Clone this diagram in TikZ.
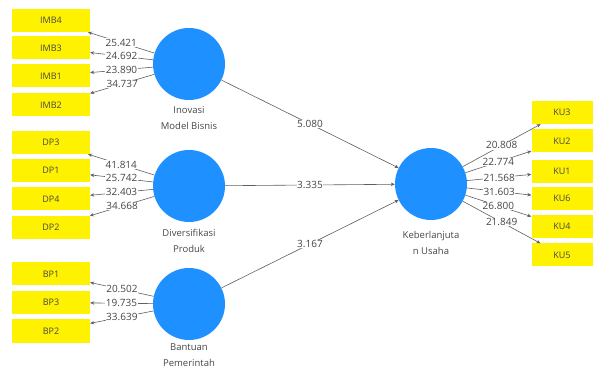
\documentclass[tikz,border=0pt]{standalone}
\usepackage{fontspec}
\setmainfont{Open Sans}
\usetikzlibrary{arrows.meta}
\definecolor{lvblue}{RGB}{30,144,255}
\definecolor{indyellow}{RGB}{255,242,0}
\definecolor{txtgrey}{RGB}{70,70,70}
\definecolor{linegrey}{RGB}{95,95,95}
\tikzset{
    lv/.style={circle, fill=lvblue, minimum size=72pt, inner sep=0pt},
    ind/.style={fill=indyellow, minimum width=78pt, minimum height=23pt,
        text=txtgrey, font=\fontsize{9}{10}\selectfont},
    indr/.style={ind, minimum width=61pt},
    lvname/.style={align=center, text=txtgrey, font=\fontsize{9.5}{16}\selectfont},
    load/.style={->, draw=linegrey, line width=0.6pt, >={Stealth[length=4pt,width=3.5pt]}},
    val/.style={fill=white, inner sep=0.5pt, text=txtgrey, font=\fontsize{10}{11}\selectfont},
}
\begin{document}
\begin{tikzpicture}[x=1pt, y=-1pt]
        \useasboundingbox (0, 0) rectangle (597, 371);

        % latent variables
        \node[lv] (imb) at (189, 64) {};
        \node[lv] (dp) at (189, 186) {};
        \node[lv] (bp) at (189, 304) {};
        \node[lv] (ku) at (431, 184) {};

        \node[lvname] (imb_name) at (189, 118) {Inovasi\\Model Bisnis};
        \node[lvname] (dp_name) at (189, 241) {Diversifikasi\\Produk};
        \node[lvname] (bp_name) at (189, 355) {Bantuan\\Pemerintah};
        \node[lvname] (ku_name) at (431, 243) {Keberlanjuta\\n Usaha};

        % indicators
        \node[ind] (imb4) at (51, 20.5) {IMB4};
        \node[ind] (imb3) at (51, 48) {IMB3};
        \node[ind] (imb1) at (51, 76) {IMB1};
        \node[ind] (imb2) at (51, 105) {IMB2};

        \node[ind] (dp3) at (51, 142.5) {DP3};
        \node[ind] (dp1) at (51, 170.5) {DP1};
        \node[ind] (dp4) at (51, 199) {DP4};
        \node[ind] (dp2) at (51, 227.5) {DP2};

        \node[ind] (bp1) at (51, 274) {BP1};
        \node[ind] (bp3) at (51, 302.5) {BP3};
        \node[ind] (bp2) at (51, 331) {BP2};

        \node[indr] (ku3) at (562, 112.5) {KU3};
        \node[indr] (ku2) at (562, 141) {KU2};
        \node[indr] (ku1) at (562, 171.5) {KU1};
        \node[indr] (ku6) at (562, 198.5) {KU6};
        \node[indr] (ku4) at (562, 226.5) {KU4};
        \node[indr] (ku5) at (562, 255) {KU5};

        % outer loadings
        \draw[load] (imb) -- node[midway, val] {25.421} (imb4);
        \draw[load] (imb) -- node[midway, val] {24.692} (imb3);
        \draw[load] (imb) -- node[midway, val] {23.890} (imb1);
        \draw[load] (imb) -- node[midway, val] {34.737} (imb2);

        \draw[load] (dp) -- node[midway, val] {41.814} (dp3);
        \draw[load] (dp) -- node[midway, val] {25.742} (dp1);
        \draw[load] (dp) -- node[midway, val] {32.403} (dp4);
        \draw[load] (dp) -- node[midway, val] {34.668} (dp2);

        \draw[load] (bp) -- node[midway, val] {20.502} (bp1);
        \draw[load] (bp) -- node[midway, val] {19.735} (bp3);
        \draw[load] (bp) -- node[midway, val] {33.639} (bp2);

        \draw[load] (ku) -- node[midway, val] {20.808} (ku3);
        \draw[load] (ku) -- node[midway, val] {22.774} (ku2);
        \draw[load] (ku) -- node[midway, val] {21.568} (ku1);
        \draw[load] (ku) -- node[midway, val] {31.603} (ku6);
        \draw[load] (ku) -- node[midway, val] {26.800} (ku4);
        \draw[load] (ku) -- node[midway, val] {21.849} (ku5);

        % path coefficients
        \draw[load] (imb) -- node[midway, val] {5.080} (ku);
        \draw[load] (dp) -- node[midway, val] {3.335} (ku);
        \draw[load] (bp) -- node[midway, val] {3.167} (ku);

    \end{tikzpicture}
\end{document}
